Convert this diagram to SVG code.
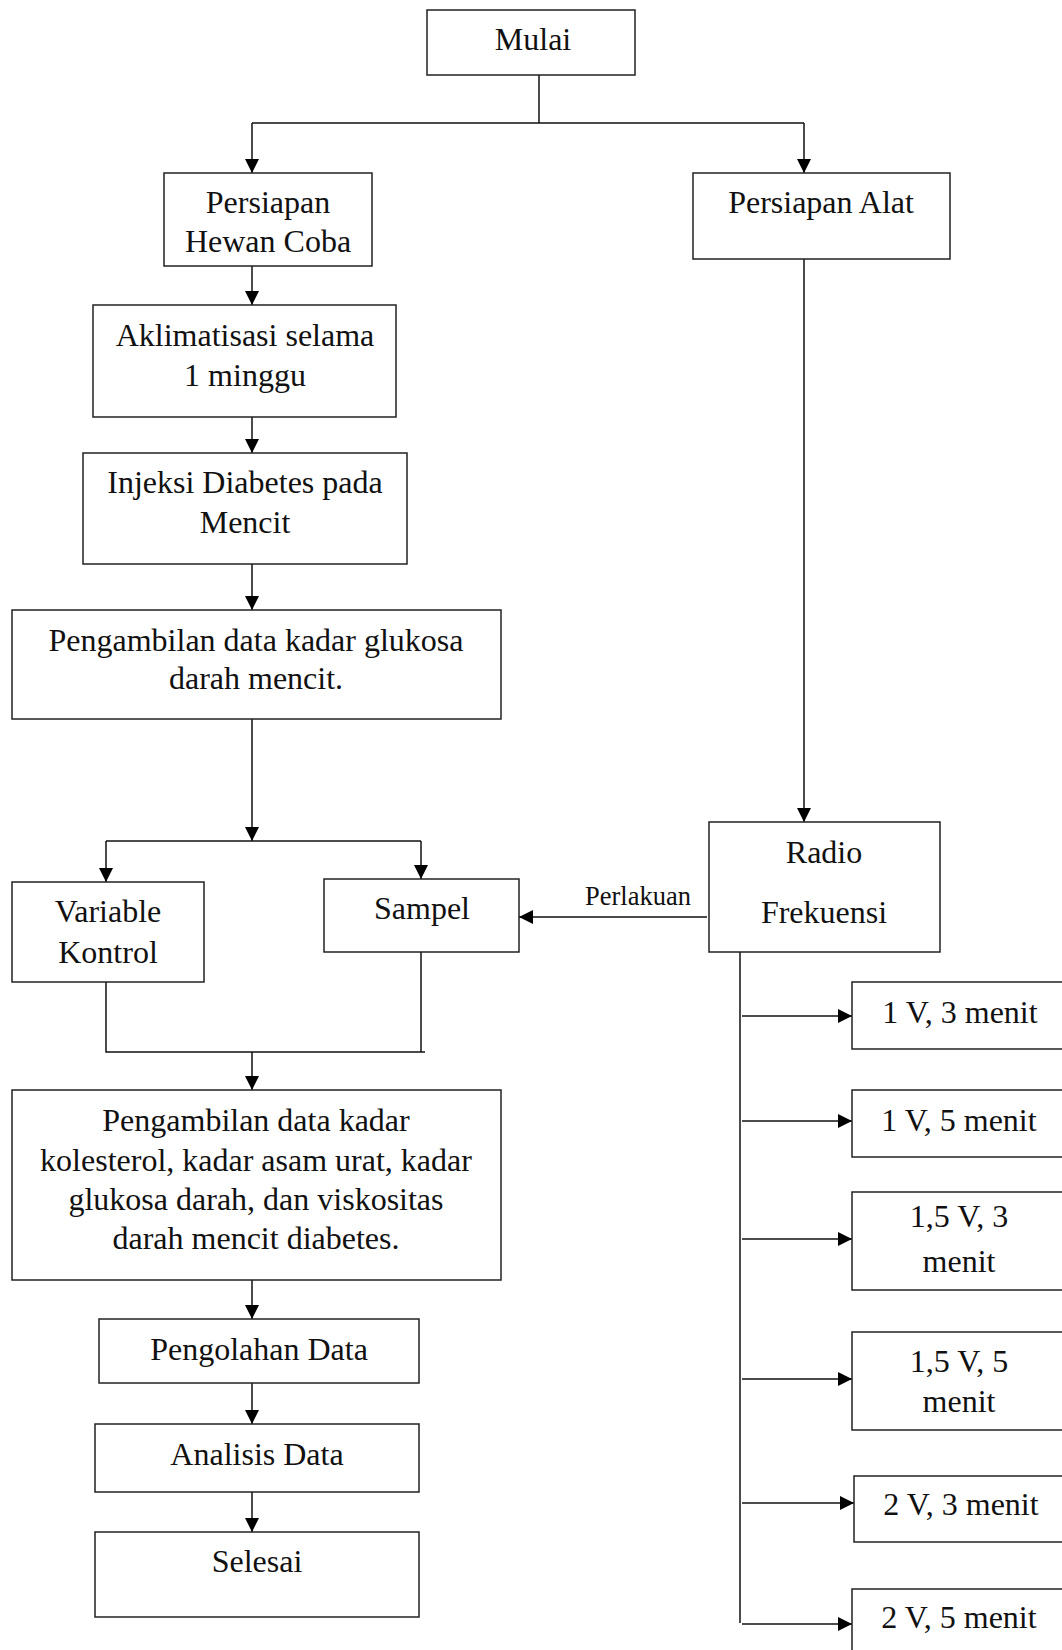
<svg xmlns="http://www.w3.org/2000/svg" width="1062" height="1650" viewBox="0 0 1062 1650">
<style>
.box{fill:#fff;stroke:#222;stroke-width:1.5}
.t{font-family:"Liberation Serif","Times New Roman",serif;font-size:32px;fill:#111;text-anchor:middle}
.s{font-family:"Liberation Serif","Times New Roman",serif;font-size:26.5px;fill:#111;text-anchor:middle}
.c{fill:none;stroke:#111;stroke-width:1.5}
</style>
<defs>
<marker id="ah" viewBox="0 0 10 10" refX="10" refY="5" markerWidth="14" markerHeight="14" markerUnits="userSpaceOnUse" orient="auto">
<path d="M0,0 L10,5 L0,10 z" fill="#000"/>
</marker>
</defs>
<rect width="1062" height="1650" fill="#fff"/>
<g id="connectors">
<path class="c" d="M539,75 V123"/>
<path class="c" d="M252,123 H804"/>
<path class="c" d="M252,123 V173" marker-end="url(#ah)"/>
<path class="c" d="M804,123 V173" marker-end="url(#ah)"/>
<path class="c" d="M252,266 V305" marker-end="url(#ah)"/>
<path class="c" d="M252,417 V453" marker-end="url(#ah)"/>
<path class="c" d="M252,564 V610" marker-end="url(#ah)"/>
<path class="c" d="M252,719 V841" marker-end="url(#ah)"/>
<path class="c" d="M106,841 H421"/>
<path class="c" d="M106,841 V882" marker-end="url(#ah)"/>
<path class="c" d="M421,841 V879" marker-end="url(#ah)"/>
<path class="c" d="M804,259 V822" marker-end="url(#ah)"/>
<path class="c" d="M707,917 H519" marker-end="url(#ah)"/>
<path class="c" d="M106,982 V1052 H425"/>
<path class="c" d="M421,952 V1052"/>
<path class="c" d="M252,1052 V1090" marker-end="url(#ah)"/>
<path class="c" d="M252,1280 V1319" marker-end="url(#ah)"/>
<path class="c" d="M252,1383 V1424" marker-end="url(#ah)"/>
<path class="c" d="M252,1492 V1532" marker-end="url(#ah)"/>
<path class="c" d="M740,952 V1623"/>
<path class="c" d="M742,1016 H852" marker-end="url(#ah)"/>
<path class="c" d="M742,1121 H852" marker-end="url(#ah)"/>
<path class="c" d="M742,1239 H852" marker-end="url(#ah)"/>
<path class="c" d="M742,1379 H852" marker-end="url(#ah)"/>
<path class="c" d="M742,1503 H854" marker-end="url(#ah)"/>
<path class="c" d="M742,1624 H852" marker-end="url(#ah)"/>
<text class="s" x="638" y="905">Perlakuan</text>
</g>
<g id="mulai"><rect class="box" x="427" y="10" width="208" height="65"/><text class="t" x="533" y="50">Mulai</text></g>
<g id="hewan"><rect class="box" x="164" y="173" width="208" height="93"/><text class="t" x="268" y="213">Persiapan</text><text class="t" x="268" y="252">Hewan Coba</text></g>
<g id="alat"><rect class="box" x="693" y="173" width="257" height="86"/><text class="t" x="821" y="213">Persiapan Alat</text></g>
<g id="aklimatisasi"><rect class="box" x="93" y="305" width="303" height="112"/><text class="t" x="245" y="346">Aklimatisasi selama</text><text class="t" x="245" y="386">1 minggu</text></g>
<g id="injeksi"><rect class="box" x="83" y="453" width="324" height="111"/><text class="t" x="245" y="493">Injeksi Diabetes pada</text><text class="t" x="245" y="533">Mencit</text></g>
<g id="glukosa"><rect class="box" x="12" y="610" width="489" height="109"/><text class="t" x="256" y="651">Pengambilan data kadar glukosa</text><text class="t" x="256" y="689">darah mencit.</text></g>
<g id="kontrol"><rect class="box" x="12" y="882" width="192" height="100"/><text class="t" x="108" y="922">Variable</text><text class="t" x="108" y="963">Kontrol</text></g>
<g id="sampel"><rect class="box" x="324" y="879" width="195" height="73"/><text class="t" x="422" y="919">Sampel</text></g>
<g id="radio"><rect class="box" x="709" y="822" width="231" height="130"/><text class="t" x="824" y="863">Radio</text><text class="t" x="824" y="923">Frekuensi</text></g>
<g id="pengambilan2"><rect class="box" x="12" y="1090" width="489" height="190"/><text class="t" x="256" y="1131">Pengambilan data kadar</text><text class="t" x="256" y="1171">kolesterol, kadar asam urat, kadar</text><text class="t" x="256" y="1210">glukosa darah, dan viskositas</text><text class="t" x="256" y="1249">darah mencit diabetes.</text></g>
<g id="pengolahan"><rect class="box" x="99" y="1319" width="320" height="64"/><text class="t" x="259" y="1360">Pengolahan Data</text></g>
<g id="analisis"><rect class="box" x="95" y="1424" width="324" height="68"/><text class="t" x="257" y="1465">Analisis Data</text></g>
<g id="selesai"><rect class="box" x="95" y="1532" width="324" height="85"/><text class="t" x="257" y="1572">Selesai</text></g>
<g id="v1"><rect class="box" x="852" y="982" width="220" height="67"/><text class="t" x="960" y="1023">1 V, 3 menit</text></g>
<g id="v2"><rect class="box" x="852" y="1090" width="220" height="67"/><text class="t" x="959" y="1131">1 V, 5 menit</text></g>
<g id="v3"><rect class="box" x="852" y="1192" width="220" height="98"/><text class="t" x="959" y="1227">1,5 V, 3</text><text class="t" x="959" y="1272">menit</text></g>
<g id="v4"><rect class="box" x="852" y="1332" width="220" height="98"/><text class="t" x="959" y="1372">1,5 V, 5</text><text class="t" x="959" y="1412">menit</text></g>
<g id="v5"><rect class="box" x="854" y="1476" width="218" height="66"/><text class="t" x="961" y="1515">2 V, 3 menit</text></g>
<g id="v6"><rect class="box" x="852" y="1589" width="220" height="80"/><text class="t" x="959" y="1628">2 V, 5 menit</text></g>
</svg>
